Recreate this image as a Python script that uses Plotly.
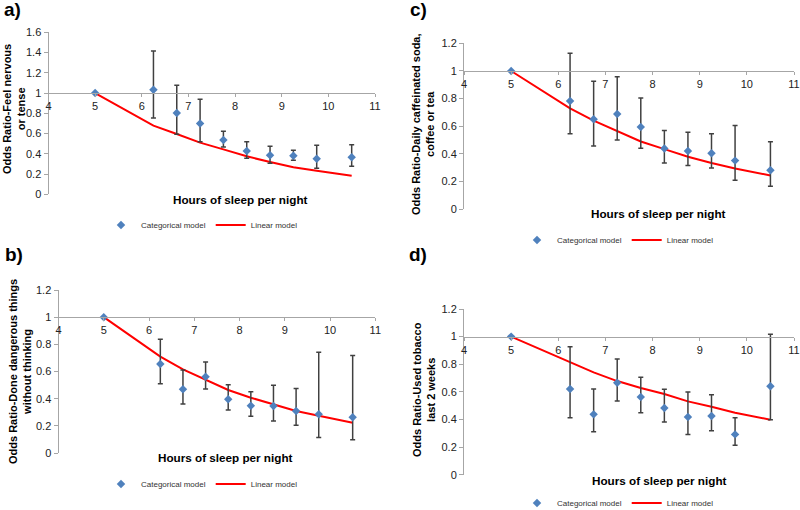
import plotly.graph_objects as go

hours = [5, 6.25, 6.75, 7.25, 7.75, 8.25, 8.75, 9.25, 9.75, 10.5]

# a) Feel nervous or tense
a_or = [1.0, 1.033, 0.803, 0.70, 0.536, 0.428, 0.385, 0.381, 0.352, 0.365]
a_hi = [1.0, 1.415, 1.076, 0.938, 0.622, 0.52, 0.474, 0.434, 0.484, 0.49]
a_lo = [1.0, 0.754, 0.592, 0.52, 0.467, 0.355, 0.306, 0.336, 0.257, 0.277]
a_lin = [1.0, 0.678, 0.595, 0.51, 0.444, 0.375, 0.319, 0.267, 0.233, 0.184]

# b) Done dangerous things without thinking
b_or = [1.0, 0.655, 0.469, 0.562, 0.395, 0.348, 0.346, 0.309, 0.285, 0.263]
b_hi = [1.0, 0.837, 0.611, 0.670, 0.503, 0.451, 0.498, 0.474, 0.741, 0.717]
b_lo = [1.0, 0.51, 0.361, 0.471, 0.317, 0.270, 0.236, 0.204, 0.115, 0.098]
b_lin = [1.0, 0.709, 0.616, 0.538, 0.464, 0.407, 0.358, 0.309, 0.275, 0.223]

# c) Daily caffeinated soda, coffee or tea
c_or = [1.0, 0.783, 0.651, 0.689, 0.595, 0.439, 0.422, 0.405, 0.352, 0.282]
c_hi = [1.0, 1.128, 0.925, 0.959, 0.805, 0.569, 0.557, 0.547, 0.605, 0.489]
c_lo = [1.0, 0.547, 0.458, 0.501, 0.441, 0.335, 0.316, 0.299, 0.21, 0.166]
c_lin = [1.0, 0.73, 0.641, 0.565, 0.49, 0.435, 0.38, 0.335, 0.295, 0.245]

# d) Used tobacco last 2 weeks
d_or = [1.0, 0.620, 0.437, 0.666, 0.563, 0.483, 0.418, 0.425, 0.292, 0.640]
d_hi = [1.0, 0.927, 0.620, 0.838, 0.705, 0.618, 0.599, 0.579, 0.413, 1.017]
d_lo = [1.0, 0.413, 0.311, 0.534, 0.449, 0.382, 0.292, 0.319, 0.213, 0.398]
d_lin = [1.0, 0.811, 0.741, 0.678, 0.628, 0.584, 0.531, 0.492, 0.449, 0.398]

W, H = 800, 510
FONT = "Liberation Sans, Arial, sans-serif"
BLUE = "#4f81bd"
RED = "#ff0000"
AXIS = "#a6a6a6"

panels = [
    dict(ax="", or_=a_or, hi=a_hi, lo=a_lo, lin=a_lin, ymax=1.6,
         x0=48.5, x1=375, yt=32.3, yb=194.3, lab="a)", labpos=(12, 9),
         ytitle="Odds Ratio-Feel nervous<br>or tense", ytpos=(14, 109),
         xtpos=(240, 200), leg="legend", legpos=(202, 225)),
    dict(ax="2", or_=c_or, hi=c_hi, lo=c_lo, lin=c_lin, ymax=1.2,
         x0=464, x1=794, yt=43.3, yb=209.3, lab="c)", labpos=(418, 9),
         ytitle="Odds Ratio-Daily caffeinated soda,<br>coffee or tea", ytpos=(423, 124),
         xtpos=(658, 213), leg="legend2", legpos=(618, 240)),
    dict(ax="3", or_=b_or, hi=b_hi, lo=b_lo, lin=b_lin, ymax=1.2,
         x0=58.5, x1=375.3, yt=290, yb=453, lab="b)", labpos=(14, 254),
         ytitle="Odds Ratio-Done dangerous things<br>without thinking", ytpos=(20, 372),
         xtpos=(226, 457), leg="legend3", legpos=(202, 484)),
    dict(ax="4", or_=d_or, hi=d_hi, lo=d_lo, lin=d_lin, ymax=1.2,
         x0=464, x1=794, yt=309, yb=474.7, lab="d)", labpos=(418, 254),
         ytitle="Odds Ratio-Used tobacco<br>last 2 weeks", ytpos=(424, 390),
         xtpos=(659, 480), leg="legend4", legpos=(618, 503)),
]

fig = go.Figure()
layout = dict(width=W, height=H,
              margin=dict(l=0, r=0, t=0, b=0, autoexpand=False),
              paper_bgcolor="white", plot_bgcolor="white",
              font=dict(family=FONT, color="#222222"), showlegend=True)
annotations = []

for p in panels:
    ax = p["ax"]
    xa = "x" + ax
    ya = "y" + ax
    fig.add_trace(go.Scatter(
        x=hours, y=p["lin"], mode="lines", name="Linear model",
        line=dict(color=RED, width=2), xaxis=xa, yaxis=ya,
        legend=p["leg"], legendrank=2))
    fig.add_trace(go.Scatter(
        x=hours, y=p["or_"], mode="markers", name="Categorical model",
        marker=dict(symbol="diamond", size=6.5, color=BLUE),
        error_y=dict(type="data", symmetric=False,
                     array=[h - v for h, v in zip(p["hi"], p["or_"])],
                     arrayminus=[v - l for v, l in zip(p["or_"], p["lo"])],
                     color="#404040", thickness=1.5, width=2.5),
        xaxis=xa, yaxis=ya, legend=p["leg"], legendrank=1))

    ydom = [1 - p["yb"] / H, 1 - p["yt"] / H]
    y1px = p["yb"] - (p["yb"] - p["yt"]) / p["ymax"]
    layout["xaxis" + ax] = dict(
        domain=[p["x0"] / W, p["x1"] / W], range=[4, 11], dtick=1,
        anchor="free", position=1 - y1px / H,
        showline=True, linecolor=AXIS, linewidth=1,
        ticks="outside", ticklen=3, tickcolor=AXIS,
        showgrid=False, zeroline=False,
        tickfont=dict(size=11, family=FONT, color="#222222"))
    layout["yaxis" + ax] = dict(
        domain=ydom, range=[0, p["ymax"]], dtick=0.2, anchor=xa,
        showline=True, linecolor=AXIS, linewidth=1,
        ticks="outside", ticklen=4, tickcolor=AXIS,
        showgrid=False, zeroline=False,
        tickfont=dict(size=11, family=FONT, color="#222222"))
    layout[p["leg"]] = dict(
        orientation="h", x=p["legpos"][0] / W, y=1 - p["legpos"][1] / H,
        xanchor="center", yanchor="middle", bgcolor="rgba(0,0,0,0)",
        font=dict(size=8, family=FONT, color="#333333"),
        itemwidth=30, tracegroupgap=0)

    annotations.append(dict(
        text="<b>" + p["lab"] + "</b>", x=p["labpos"][0] / W, y=1 - p["labpos"][1] / H,
        xref="paper", yref="paper", showarrow=False,
        xanchor="center", yanchor="middle",
        font=dict(size=19, family=FONT, color="black")))
    annotations.append(dict(
        text="<b>" + p["ytitle"] + "</b>", x=p["ytpos"][0] / W, y=1 - p["ytpos"][1] / H,
        xref="paper", yref="paper", showarrow=False, textangle=-90,
        xanchor="center", yanchor="middle",
        font=dict(size=11, family=FONT, color="black")))
    annotations.append(dict(
        text="<b>Hours of sleep per night</b>", x=p["xtpos"][0] / W, y=1 - p["xtpos"][1] / H,
        xref="paper", yref="paper", showarrow=False,
        xanchor="center", yanchor="middle",
        font=dict(size=11.7, family=FONT, color="black")))

layout["annotations"] = annotations
fig.update_layout(**layout)
fig.write_html("out.html", config={"displayModeBar": False},
               post_script="document.body.style.margin='0px';")
